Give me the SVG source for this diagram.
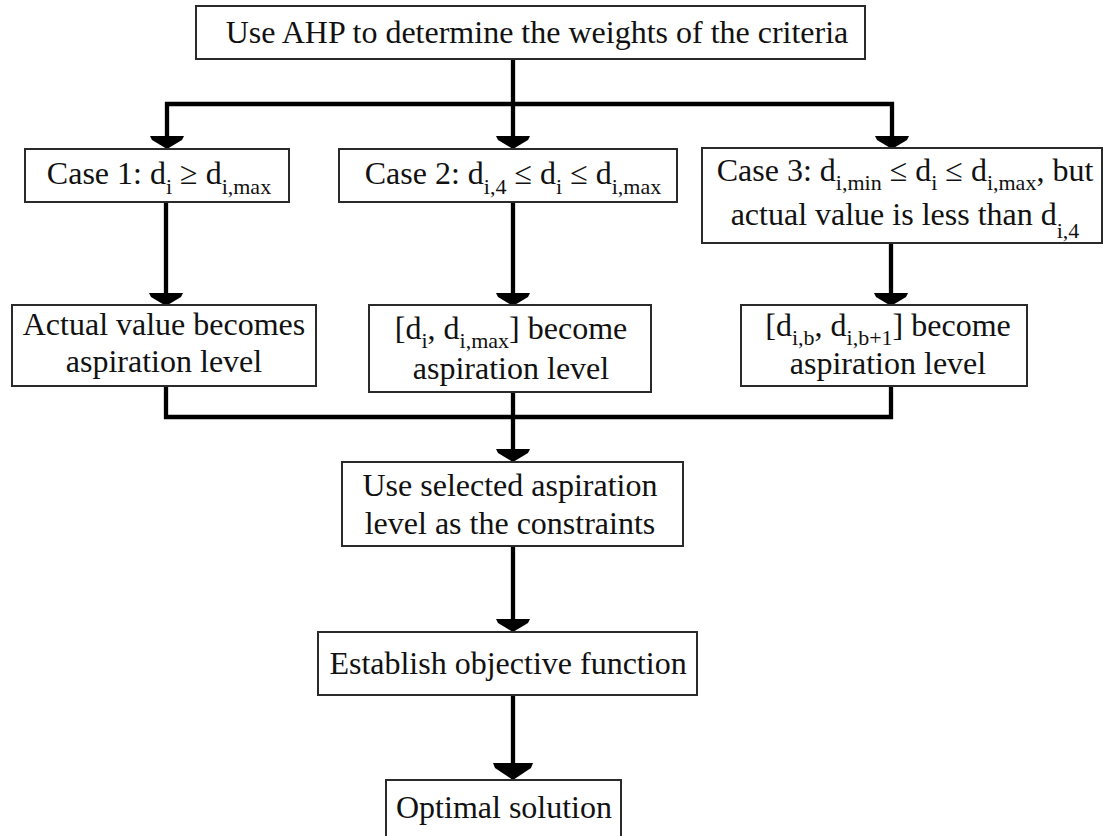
<svg xmlns="http://www.w3.org/2000/svg" width="1105" height="836" viewBox="0 0 1105 836">
<style>
.box{fill:#fff;stroke:#2a2a2a;stroke-width:2}
.t{font-family:"Liberation Serif","Times New Roman",serif;font-size:32px;fill:#111;text-anchor:middle}
.s{font-size:22px}
.ln{fill:none;stroke:#000;stroke-width:4.3;stroke-linejoin:miter;stroke-linecap:butt}
.ah{fill:#000}
</style>
<defs>
<polygon id="arr" points="-17,0 17,0 15,4 0,13 -15,4"/>
<polygon id="arrL" points="-20,0 20,0 18,5 0,17 -18,5"/>
</defs>
<rect width="1105" height="836" fill="#fff"/>
<g id="connectors">
<path class="ln" d="M513,59 V104"/>
<path class="ln" d="M167,138 V104 H892 V138"/>
<path class="ln" d="M513,104 V138"/>
<path class="ln" d="M166,202 V295"/>
<path class="ln" d="M513,202 V295"/>
<path class="ln" d="M891,243 V295"/>
<path class="ln" d="M166,386 V417 H891 V386"/>
<path class="ln" d="M513,392 V450"/>
<path class="ln" d="M513,546 V619"/>
<path class="ln" d="M513,695 V764"/>
<use href="#arr" class="ah" x="167" y="136"/>
<use href="#arr" class="ah" x="513" y="136"/>
<use href="#arr" class="ah" x="892" y="136"/>
<use href="#arr" class="ah" x="166" y="293"/>
<use href="#arr" class="ah" x="513" y="293"/>
<use href="#arr" class="ah" x="891" y="293"/>
<use href="#arr" class="ah" x="513" y="449"/>
<use href="#arr" class="ah" x="513" y="619"/>
<use href="#arrL" class="ah" x="513" y="763"/>
</g>
<g id="n-ahp">
<rect class="box" x="196" y="6" width="669" height="53"/>
<text class="t" x="537" y="43">Use AHP to determine the weights of the criteria</text>
</g>
<g id="n-case1">
<rect class="box" x="25" y="149" width="264" height="53"/>
<text class="t" x="159" y="184">Case 1: d<tspan class="s" dy="10">i</tspan><tspan dy="-10"> ≥ d</tspan><tspan class="s" dy="10">i,max</tspan></text>
</g>
<g id="n-case2">
<rect class="box" x="339" y="149" width="338" height="53"/>
<text class="t" x="513" y="184">Case 2: d<tspan class="s" dy="10">i,4</tspan><tspan dy="-10"> ≤ d</tspan><tspan class="s" dy="10">i</tspan><tspan dy="-10"> ≤ d</tspan><tspan class="s" dy="10">i,max</tspan></text>
</g>
<g id="n-case3">
<rect class="box" x="702" y="148" width="400" height="95"/>
<text class="t" x="905" y="181">Case 3: d<tspan class="s" dy="9">i,min</tspan><tspan dy="-9"> ≤ d</tspan><tspan class="s" dy="9">i</tspan><tspan dy="-9"> ≤ d</tspan><tspan class="s" dy="9">i,max</tspan><tspan dy="-9">, but</tspan></text>
<text class="t" x="905" y="225">actual value is less than d<tspan class="s" dy="13">i,4</tspan></text>
</g>
<g id="n-actual">
<rect class="box" x="12" y="305" width="304" height="81"/>
<text class="t" x="164" y="335">Actual value becomes</text>
<text class="t" x="164" y="372">aspiration level</text>
</g>
<g id="n-range2">
<rect class="box" x="369" y="305" width="282" height="87"/>
<text class="t" x="511" y="339">[d<tspan class="s" dy="9">i</tspan><tspan dy="-9">, d</tspan><tspan class="s" dy="9">i,max</tspan><tspan dy="-9">] become</tspan></text>
<text class="t" x="511" y="379">aspiration level</text>
</g>
<g id="n-range3">
<rect class="box" x="741" y="305" width="286" height="81"/>
<text class="t" x="888" y="336">[d<tspan class="s" dy="9">i,b</tspan><tspan dy="-9">, d</tspan><tspan class="s" dy="9">i,b+1</tspan><tspan dy="-9">] become</tspan></text>
<text class="t" x="888" y="374">aspiration level</text>
</g>
<g id="n-use">
<rect class="box" x="342" y="462" width="341" height="84"/>
<text class="t" x="510" y="496">Use selected aspiration</text>
<text class="t" x="510" y="534">level as the constraints</text>
</g>
<g id="n-objective">
<rect class="box" x="318" y="632" width="379" height="63"/>
<text class="t" x="508" y="674">Establish objective function</text>
</g>
<g id="n-optimal">
<rect class="box" x="386" y="780" width="235" height="70"/>
<text class="t" x="504" y="818">Optimal solution</text>
</g>
</svg>
